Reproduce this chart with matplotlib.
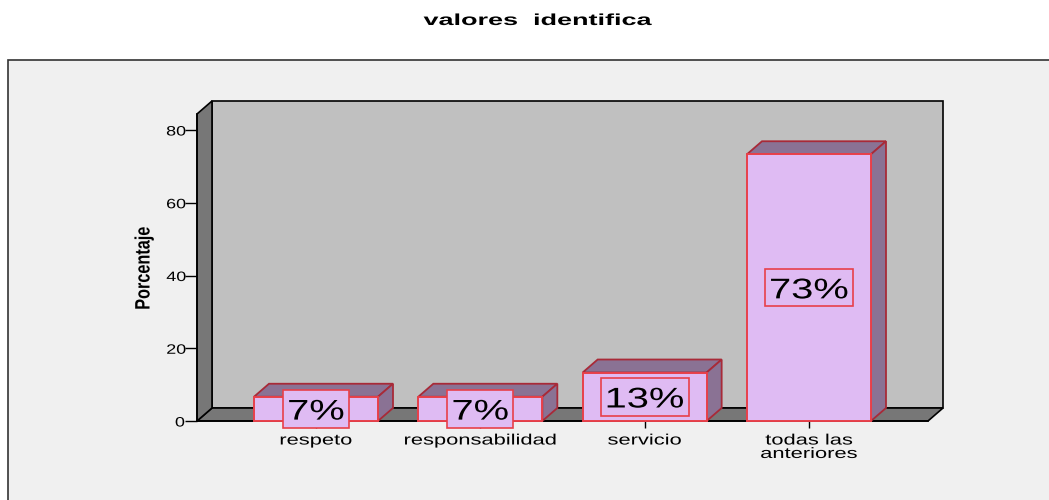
import matplotlib
matplotlib.use("Agg")
import matplotlib.pyplot as plt
from matplotlib.patches import Polygon, Rectangle
from matplotlib.patheffects import AbstractPathEffect
from matplotlib.transforms import Affine2D

categories = ["respeto", "responsabilidad", "servicio", "todas las\nanteriores"]
values = [6.67, 6.67, 13.33, 73.33]
value_labels = ["7%", "7%", "13%", "73%"]
y_ticks = [0, 20, 40, 60, 80]
title = "valores  identifica"
y_label = "Porcentaje"

W, H = 1049, 500
plt.rcParams["font.family"] = ["Liberation Sans", "DejaVu Sans"]


class Stretch(AbstractPathEffect):
    """Widen or narrow glyphs along the baseline, about the middle of the line."""
    def __init__(self, sx):
        super().__init__()
        self.sx = sx

    def draw_path(self, renderer, gc, tpath, affine, rgbFace=None):
        e = tpath.get_extents()
        xc = (e.x0 + e.x1) / 2
        a = Affine2D().translate(-xc, 0).scale(self.sx, 1).translate(xc, 0) + affine
        renderer.draw_path(gc, tpath, a, rgbFace)


fig = plt.figure(figsize=(W / 100, H / 100), dpi=100, facecolor="white")
fig.add_artist(Rectangle((8 / W, -0.1), 1.1, 1.1 - 60 / H, transform=fig.transFigure,
                         facecolor="#F0F0F0", edgecolor="#333333", linewidth=1.2, zorder=-1))

L, R, B, T = 197, 928, 421, 114
ax = fig.add_axes([L / W, 1 - B / H, (R - L) / W, (B - T) / H])
ax.patch.set_visible(False)
px_per_cat = 164.33
px_per_unit = 3.6375
ax.set_xlim((L - 316) / px_per_cat, (R - 316) / px_per_cat)
ax.set_ylim(0, (B - T) / px_per_unit)
dx, dy = 15 / px_per_cat, 13 / px_per_unit
x0, x1 = ax.get_xlim()
y0, y1 = ax.get_ylim()


def poly(pts, fc, ec, lw, z):
    ax.add_patch(Polygon(pts, closed=True, facecolor=fc, edgecolor=ec, linewidth=lw,
                         zorder=z, clip_on=False, joinstyle="miter"))


# box walls
poly([(x0 + dx, y0 + dy), (x1 + dx, y0 + dy), (x1 + dx, y1 + dy), (x0 + dx, y1 + dy)], "#C0C0C0", "black", 1.2, 1)
poly([(x0, y0), (x1, y0), (x1 + dx, y0 + dy), (x0 + dx, y0 + dy)], "#777777", "black", 1.2, 1.1)
poly([(x0, y0), (x0 + dx, y0 + dy), (x0 + dx, y1 + dy), (x0, y1)], "#777777", "black", 1.2, 1.1)

# bars
w = 124 / px_per_cat
for i, v in enumerate(values):
    l, r = i - w / 2, i + w / 2
    poly([(l, v), (r, v), (r + dx, v + dy), (l + dx, v + dy)], "#8A7294", "#A82A38", 1.3, 3)
    poly([(r, 0), (r + dx, dy), (r + dx, v + dy), (r, v)], "#8A7294", "#A82A38", 1.3, 3)
    ax.add_patch(Rectangle((l, 0), w, v, facecolor="#DFBBF3", edgecolor="#E8404A",
                           linewidth=1.4, zorder=3.2, clip_on=False))

# value labels
box_h = 37.5 / px_per_unit
for i, (v, s) in enumerate(zip(values, value_labels)):
    bw = (66 if len(s) == 2 else 88) / px_per_cat
    ym = v / 2
    ax.add_patch(Rectangle((i - bw / 2, ym - box_h / 2), bw, box_h, facecolor="#DFBBF3",
                           edgecolor="#E8404A", linewidth=1.2, zorder=4, clip_on=False))
    t = ax.text(i, ym - 0.2, s, ha="center", va="center_baseline", fontsize=20.5, color="black", zorder=5)
    t.set_path_effects([Stretch(1.4)])

# axes
ax.set_xticks(range(len(categories)))
ax.set_xticklabels(categories, fontsize=10.8, linespacing=0.95)
ax.set_yticks(y_ticks)
ax.tick_params(axis="y", length=8.6, width=1, labelsize=9.8, pad=1)
ax.tick_params(axis="x", length=5, width=1, pad=4)
for s in ("top", "right"):
    ax.spines[s].set_visible(False)
for s in ("left", "bottom"):
    ax.spines[s].set_linewidth(1.2)
for lab in ax.get_xticklabels():
    lab.set_path_effects([Stretch(1.46)])
for lab in ax.get_yticklabels():
    lab.set_path_effects([Stretch(1.32)])

fig.text(538 / W, 1 - 20.5 / H, title, ha="center", va="center", fontsize=11.5, fontweight="bold",
         path_effects=[Stretch(1.69)])
fig.text(144 / W, 1 - 268 / H, y_label, ha="center", va="center", rotation=90, fontsize=15,
         fontweight="bold", path_effects=[Stretch(0.78)])

fig.savefig("out.png", dpi=100, facecolor="white")
